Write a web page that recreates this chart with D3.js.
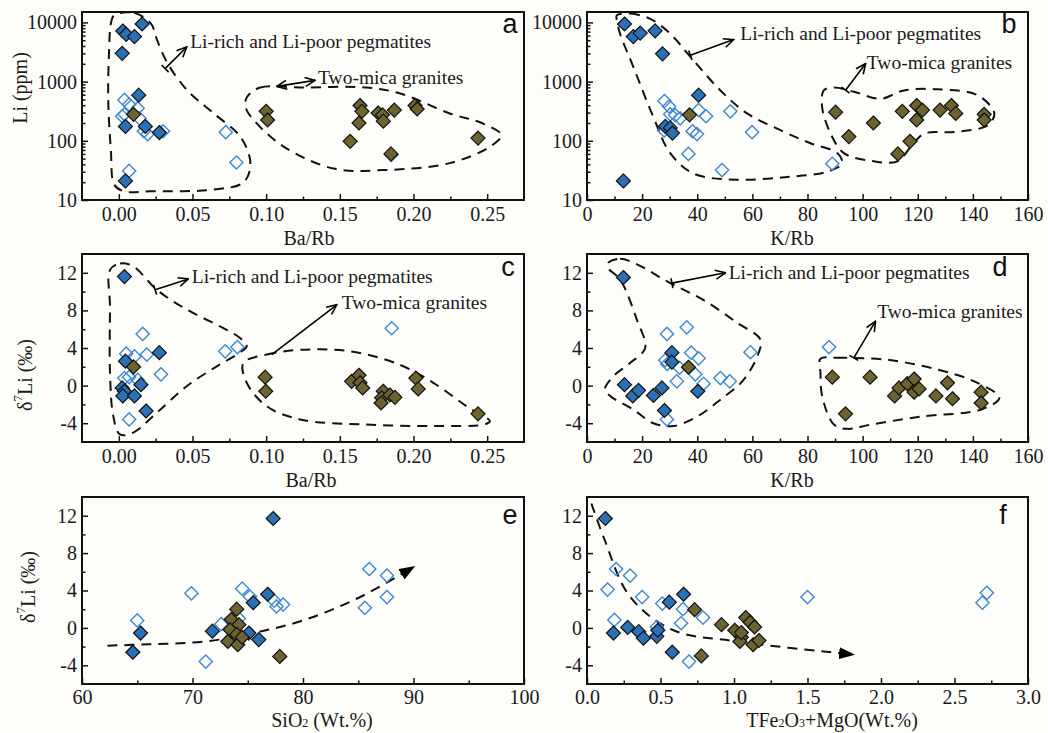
<!DOCTYPE html>
<html><head><meta charset="utf-8">
<script src="https://cdn.jsdelivr.net/npm/d3@7"></script>
<style>body{margin:0;background:#fff}</style>
</head><body><svg id="c" width="1048" height="733"></svg>
<script>
// ---------- tick arrays ----------
const xTicksBaRb = [0, 0.05, 0.10, 0.15, 0.20, 0.25];
const xMinorBaRb = [0.025, 0.075, 0.125, 0.175, 0.225];
const xTicksKRb = [0, 20, 40, 60, 80, 100, 120, 140, 160];
const xMinorKRb = [10, 30, 50, 70, 90, 110, 130, 150];
const yTicksLi = [10, 100, 1000, 10000];
const yTicksD = [-4, 0, 4, 8, 12];
const yMinorD = [-2, 2, 6, 10];
const xTicksSi = [60, 70, 80, 90, 100];
const xMinorSi = [65, 75, 85, 95];
const xTicksFe = [0, 0.5, 1.0, 1.5, 2.0, 2.5, 3.0];
const xMinorFe = [0.25, 0.75, 1.25, 1.75, 2.25, 2.75];

// ---------- data: panel a (Ba/Rb, Li ppm) ----------
const aFilled = [[0.0027,7160],[0.005,6300],[0.0106,5760],[0.0158,9400],[0.0023,3000],[0.0135,590],[0.0045,175],[0.018,175],[0.0275,138],[0.0045,21]];
const aOpen = [[0.0038,490],[0.007,410],[0.0023,260],[0.0038,280],[0.0128,355],[0.014,240],[0.017,145],[0.0196,130],[0.03,145],[0.007,31],[0.0726,140],[0.0798,43],[0.185,58]];
const aOlive = [[0.01,280],[0.1,315],[0.101,225],[0.1637,395],[0.165,315],[0.163,200],[0.157,98],[0.176,295],[0.179,275],[0.1795,215],[0.187,330],[0.201,395],[0.2025,345],[0.2438,111],[0.1847,60]];
// ---------- panel b (K/Rb, Li ppm) ----------
const bFilled = [[13.6,9400],[16.8,5760],[19.3,6600],[24.7,7200],[27.4,2950],[40.5,590],[28.4,175],[30.2,165],[31,135],[13.2,21]];
const bOpen = [[28.1,470],[29.8,380],[30.2,280],[32,270],[33.8,240],[40.5,330],[43.2,260],[38.3,145],[39.9,130],[52,315],[59.9,140],[36.8,60],[49,32],[28,150],[89,41]];
const bOlive = [[37.2,275],[90.2,305],[95,118],[103.9,200],[114.4,315],[119.6,395],[121.7,330],[119.6,225],[128.1,330],[132.2,395],[133.8,290],[144.1,280],[144.1,225],[117.2,98],[112.8,60]];
// ---------- panel c (Ba/Rb, d7Li) ----------
const cFilled = [[0.0038,11.6],[0.0045,2.6],[0.0275,3.5],[0.0023,-0.25],[0.0038,-0.6],[0.0027,-1.1],[0.0106,-1.1],[0.015,0.1],[0.0185,-2.7]];
const cOpen = [[0.0162,5.5],[0.005,3.4],[0.0106,3.1],[0.019,3.3],[0.0286,1.2],[0.0038,0.8],[0.007,0.9],[0.0128,0.6],[0.007,-3.6],[0.0722,3.65],[0.0805,4.1],[0.1852,6.1]];
const cOlive = [[0.01,2.0],[0.0993,0.9],[0.0997,-0.6],[0.158,0.45],[0.163,1.1],[0.1637,0.3],[0.1655,-0.25],[0.1795,-0.6],[0.1784,-1.3],[0.184,-1.0],[0.1874,-1.25],[0.178,-1.85],[0.2016,0.8],[0.2032,-0.35],[0.2438,-3.0]];
// ---------- panel d (K/Rb, d7Li) ----------
const dFilled = [[13.2,11.5],[13.6,0.1],[16.6,-1.1],[18.7,-0.5],[24.1,-1.05],[27.2,-0.25],[28.1,-2.65],[30.8,3.5],[30.8,2.5],[40.2,-0.6]];
const dOpen = [[29,5.5],[36.2,6.2],[28.4,2.7],[29.1,2.3],[33.6,1.9],[37.8,3.5],[40.5,2.9],[39.3,1.2],[32.6,0.45],[42.3,0.2],[48.4,0.8],[51.8,0.45],[59.3,3.55],[29,-3.6],[87.8,4.1]];
const dOlive = [[36.8,1.95],[89,0.9],[93.8,-3.0],[102.7,0.9],[111.6,-1.1],[113.2,-0.25],[116.2,0.2],[118.7,0.7],[118.7,-0.7],[120.5,-0.35],[126.6,-1.1],[130.8,0.3],[132.6,-1.4],[143,-0.7],[143,-1.85]];
// ---------- panel e (SiO2, d7Li) ----------
const eFilled = [[77.3,11.7],[64.6,-2.6],[65.3,-0.55],[71.8,-0.35],[75.5,2.7],[76.8,3.6],[75.1,-0.55],[76.0,-1.25]];
const eOpen = [[69.9,3.7],[65.0,0.8],[71.2,-3.6],[72.6,0.4],[74.5,4.2],[75.2,3.35],[74.2,1.0],[77.4,2.9],[77.6,2.3],[78.2,2.5],[86.0,6.3],[87.6,5.6],[85.6,2.15],[87.6,3.3]];
const eOlive = [[74.0,2.0],[73.5,0.9],[74.2,0.35],[73.4,-0.2],[74.0,-0.7],[73.2,-1.45],[74.1,-1.8],[74.5,-1.0],[77.9,-3.05]];
// ---------- panel f (TFe2O3+MgO, d7Li) ----------
const fFilled = [[0.125,11.7],[0.18,-0.55],[0.277,0.05],[0.352,-0.4],[0.384,-1.1],[0.475,-0.9],[0.482,-0.25],[0.56,2.75],[0.657,3.6],[0.58,-2.6]];
const fOpen = [[0.198,6.3],[0.293,5.6],[0.14,4.1],[0.375,3.3],[0.186,0.85],[0.512,2.6],[0.475,0.1],[0.653,2.0],[0.64,0.5],[0.789,1.1],[0.694,-3.6],[1.5,3.3],[2.69,2.7],[2.72,3.75]];
const fOlive = [[0.732,1.95],[0.915,0.35],[0.778,-3.0],[1.005,-0.25],[1.05,-1.0],[1.04,-1.45],[1.08,1.1],[1.11,0.6],[1.14,0.1],[1.13,-1.8],[1.17,-1.35],[1.05,-0.5]];

// ---------- envelopes / trends (data coordinates) ----------
const envA1 = [[-0.0032,13200],[0.0104,14500],[0.0217,9600],[0.026,5000],[0.033,2050],[0.0465,710],[0.0645,290],[0.0825,117],[0.0893,42],[0.0848,20],[0.0645,15],[0.0217,14],[0.0036,14],[-0.003,18],[-0.0054,70],[-0.0072,490],[-0.0066,3400],[-0.0054,9600]];
const envA2 = [[0.087,550],[0.096,795],[0.123,795],[0.168,795],[0.191,630],[0.2246,290],[0.2471,196],[0.2596,125],[0.2517,79],[0.2246,42],[0.1795,32],[0.1457,34],[0.1118,80],[0.0916,224],[0.086,370]];
const envB1 = [[10.8,13200],[15.6,14100],[22.9,11500],[30.2,6450],[37.5,2630],[48.4,710],[58.1,290],[70.2,151],[81.1,91],[90.8,62],[92.6,42],[87.2,30],[72.6,24.5],[54.4,22],[38.7,28],[30.2,62],[24.1,251],[16.8,1780],[12,6450],[10.8,11000]];
const envB2 = [[85.9,710],[89.6,795],[96.8,676],[106.5,513],[115,710],[127.2,741],[141.7,589],[147.8,290],[145.3,182],[133.2,141],[122.3,132],[117.5,79],[112.6,45],[104.1,45],[93.2,62],[88.4,132],[85.3,372]];
const envC1 = [[-0.006,12.3],[0.0008,13.0],[0.0098,12.7],[0.0257,10.2],[0.046,8.1],[0.0687,6.3],[0.082,5.1],[0.0868,4.2],[0.082,3.5],[0.0665,2.05],[0.046,-0.07],[0.0257,-2.9],[0.0098,-5.0],[0.0008,-5.2],[-0.0037,-3.3],[-0.006,1.35],[-0.006,8.4]];
const envC2 = [[0.0845,2.4],[0.1004,3.3],[0.123,3.8],[0.157,3.65],[0.191,2.2],[0.2135,0.3],[0.236,-2.2],[0.2518,-3.8],[0.2473,-4.15],[0.2135,-4.3],[0.168,-4.15],[0.123,-3.6],[0.1004,-2.2],[0.0868,0.3]];
const envD1 = [[7.7,13.05],[12,13.5],[18.1,12.9],[30.2,10.9],[42.3,9.1],[54.4,6.7],[62.9,4.9],[62.3,3.5],[56.8,0.6],[48.4,-1.5],[39.9,-3.3],[31.4,-4.3],[24.1,-4.0],[16.8,-2.55],[8.4,-1.1],[6.5,-0.4],[9.6,1.0],[15.6,2.4],[21.1,4.0],[18.1,7.0],[12,11.3],[7.7,12.5]];
const envD2 = [[84.7,2.85],[90.8,2.95],[109,2.75],[127.2,1.7],[140.5,0.45],[149.6,-1.3],[143,-2.55],[121.1,-3.3],[102.9,-4.15],[94.4,-4.6],[89.6,-4.15],[85.3,-1.1],[84.7,1.35]];
const trendE = [[62.3,-1.9],[66,-1.75],[71.2,-1.45],[75.5,-0.55],[80,0.8],[85,3.2],[90,6.5]];
const trendF = [[0.03,13.3],[0.118,9.5],[0.29,3.4],[0.58,-0.2],[1.02,-1.45],[1.81,-2.85]];

const PEG = 'Li-rich and Li-poor pegmatites';
const GRA = 'Two-mica granites';

const SERIF = "'Liberation Serif','Times New Roman',serif";
const SANS = "'Liberation Sans',Arial,sans-serif";
const BLUE = '#2b70b5', OPENC = '#3b88d2', OLIVE = '#6c6331';
const FS = '20px';

const svg = d3.select('#c');
svg.append('rect').attr('width',1048).attr('height',733).attr('fill','#fdfdfa');
const defs = svg.append('defs');
defs.append('marker').attr('id','arr').attr('viewBox','0 0 12 12').attr('refX',11).attr('refY',6)
  .attr('markerWidth',12).attr('markerHeight',12).attr('markerUnits','userSpaceOnUse').attr('orient','auto-start-reverse')
  .append('path').attr('d','M1,1.5L11,6L1,10.5').attr('fill','none').attr('stroke','#000').attr('stroke-width',1.6);
defs.append('marker').attr('id','bar').attr('viewBox','0 0 4 12').attr('refX',2).attr('refY',6)
  .attr('markerWidth',4).attr('markerHeight',12).attr('markerUnits','userSpaceOnUse').attr('orient','auto')
  .append('path').attr('d','M2,1L2,11').attr('stroke','#000').attr('stroke-width',1.6);
defs.append('marker').attr('id','tri').attr('viewBox','0 0 16 12').attr('refX',14).attr('refY',6)
  .attr('markerWidth',16).attr('markerHeight',12).attr('markerUnits','userSpaceOnUse').attr('orient','auto')
  .append('path').attr('d','M0,0L16,6L0,12Z').attr('fill','#000');

const diamond = 'M0,-7L7,0L0,7L-7,0Z';
const diamondO = 'M0,-6.6L6.6,0L0,6.6L-6.6,0Z';

const L = {left:82,right:524}, R = {left:587,right:1028};
const ROW = [{top:12,bottom:200,tt:37.5,tp:7},{top:254,bottom:442,tt:37.5,tp:7},{top:497,bottom:684,tt:36,tp:6}];

const panels = [
 {lab:'a', col:L, row:ROW[0], xd:[-0.025,0.275], yd:[10,15000], log:true, xt:xTicksBaRb, xm:xMinorBaRb, yt:yTicksLi, xf:d3.format('.2f'),
  filled:aFilled, open:aOpen, olive:aOlive, env:[envA1,envA2],
  texts:[[PEG,0.0484,4850],[GRA,0.1352,1190]],
  arrows:[{f:[0.0314,1660],t:[0.0461,3850],s:'bar'},{f:[0.1072,830],t:[0.1332,1050],s:'arr'}],
  xTitle:'Ba/Rb', xTitleX:309, yTitle:'li', yTitleX:20, yTitleY:88, labXY:[510,24]},
 {lab:'b', col:R, row:ROW[0], xd:[0,160], yd:[10,15000], log:true, xt:xTicksKRb, xm:xMinorKRb, yt:yTicksLi, xf:d3.format('d'),
  filled:bFilled, open:bOpen, olive:bOlive, env:[envB1,envB2],
  texts:[[PEG,55.6,6550],[GRA,101.5,2065]],
  arrows:[{f:[37.5,2790],t:[53.2,5130],s:'bar'},{f:[93.8,716],t:[101.1,2020],s:'bar'}],
  xTitle:'K/Rb', xTitleX:792, labXY:[1009,24]},
 {lab:'c', col:L, row:ROW[1], xd:[-0.025,0.275], yd:[-6,14], xt:xTicksBaRb, xm:xMinorBaRb, yt:yTicksD, ym:yMinorD, xf:d3.format('.2f'),
  filled:cFilled, open:cOpen, olive:cOlive, env:[envC1,envC2],
  texts:[[PEG,0.0495,11.6],[GRA,0.1513,8.8]],
  arrows:[{f:[0.0246,10.2],t:[0.0472,11.35],s:'bar'},{f:[0.1038,3.3],t:[0.1479,8.6]}],
  xTitle:'Ba/Rb', xTitleX:311, yTitle:'d', yTitleX:25, yTitleY:375, labXY:[508,267]},
 {lab:'d', col:R, row:ROW[1], xd:[0,160], yd:[-6,14], xt:xTicksKRb, xm:xMinorKRb, yt:yTicksD, ym:yMinorD, xf:d3.format('d'),
  filled:dFilled, open:dOpen, olive:dOlive, env:[envD1,envD2],
  texts:[[PEG,51.4,12.0],[GRA,105.3,7.9]],
  arrows:[{f:[30.8,10.9],t:[50.2,12.0],s:'bar'},{f:[96.8,2.95],t:[104.7,6.85],s:'bar'}],
  xTitle:'K/Rb', xTitleX:792, labXY:[1000,267]},
 {lab:'e', col:L, row:ROW[2], xd:[60,100], yd:[-6,14], xt:xTicksSi, xm:xMinorSi, yt:yTicksD, ym:yMinorD, xf:d3.format('d'),
  filled:eFilled, open:eOpen, olive:eOlive, env:[], trend:trendE,
  texts:[], arrows:[],
  xTitle:'si', xTitleX:322, yTitle:'d', yTitleX:28, yTitleY:587, labXY:[510,515]},
 {lab:'f', col:R, row:ROW[2], xd:[0,3], yd:[-6,14], xt:xTicksFe, xm:xMinorFe, yt:yTicksD, ym:yMinorD, xf:d3.format('.1f'),
  filled:fFilled, open:fOpen, olive:fOlive, env:[], trend:trendF,
  texts:[], arrows:[],
  xTitle:'fe', xTitleX:832, labXY:[1003,515]}
];

function yLabelText(sel, kind){
  if(kind==='li'){ sel.text('Li  (ppm)'); return; }
  sel.append('tspan').text('δ');
  sel.append('tspan').attr('baseline-shift','super').attr('font-size','13px').text('7');
  sel.append('tspan').text('Li  (‰)');
}
function xLabelText(sel, kind){
  if(kind==='si'){
    sel.append('tspan').text('SiO');
    sel.append('tspan').attr('dy','3').attr('font-size','12px').text('2');
    sel.append('tspan').attr('dy','-3').text(' (Wt.%)');
  } else if(kind==='fe'){
    sel.append('tspan').text('TFe');
    sel.append('tspan').attr('dy','3').attr('font-size','12px').text('2');
    sel.append('tspan').attr('dy','-3').text('O');
    sel.append('tspan').attr('dy','3').attr('font-size','12px').text('3');
    sel.append('tspan').attr('dy','-3').text('+MgO(Wt.%)');
  } else sel.text(kind);
}

panels.forEach(p=>{
  const g = svg.append('g');
  const x = d3.scaleLinear().domain(p.xd).range([p.col.left,p.col.right]);
  const y = (p.log?d3.scaleLog():d3.scaleLinear()).domain(p.yd).range([p.row.bottom,p.row.top]);
  const line = d3.line().x(d=>x(d[0])).y(d=>y(d[1]));

  p.env.forEach(e=>{
    g.append('path').attr('d',line.curve(d3.curveCatmullRomClosed.alpha(0.5))(e))
      .attr('fill','none').attr('stroke','#111').attr('stroke-width',2).attr('stroke-dasharray','10,7');
  });
  if(p.trend){
    g.append('path').attr('d',line.curve(d3.curveCatmullRom.alpha(0.5))(p.trend))
      .attr('fill','none').attr('stroke','#111').attr('stroke-width',2).attr('stroke-dasharray','10,7')
      .attr('marker-end','url(#tri)');
  }
  g.selectAll('.o').data(p.open).join('path').attr('d',diamondO)
    .attr('transform',d=>`translate(${x(d[0])},${y(d[1])})`)
    .attr('fill','none').attr('stroke',OPENC).attr('stroke-width',1.4);
  g.selectAll('.f').data(p.filled).join('path').attr('d',diamond)
    .attr('transform',d=>`translate(${x(d[0])},${y(d[1])})`)
    .attr('fill',BLUE).attr('stroke','#111').attr('stroke-width',1.2);
  g.selectAll('.v').data(p.olive).join('path').attr('d',diamond)
    .attr('transform',d=>`translate(${x(d[0])},${y(d[1])})`)
    .attr('fill',OLIVE).attr('stroke','#111').attr('stroke-width',1.2);

  p.arrows.forEach(a=>{
    const ln = g.append('line').attr('x1',x(a.f[0])).attr('y1',y(a.f[1])).attr('x2',x(a.t[0])).attr('y2',y(a.t[1]))
      .attr('stroke','#000').attr('stroke-width',1.6).attr('marker-end','url(#arr)');
    if(a.s) ln.attr('marker-start',`url(#${a.s})`);
  });
  p.texts.forEach(t=>{
    g.append('text').attr('x',x(t[1])).attr('y',y(t[2])).attr('dominant-baseline','central')
      .attr('font-family',SERIF).attr('font-size','19.5px').attr('fill','#1a1a1a').text(t[0]);
  });

  g.append('g').attr('transform',`translate(0,${p.row.bottom})`)
    .call(d3.axisBottom(x).tickValues(p.xt).tickFormat(p.xf).tickSizeInner(-6).tickSizeOuter(0).tickPadding(p.row.tp));
  g.append('g').attr('transform',`translate(0,${p.row.bottom})`)
    .call(d3.axisBottom(x).tickValues(p.xm).tickFormat('').tickSizeInner(-3.5).tickSizeOuter(0));
  if(p.log){
    g.append('g').attr('transform',`translate(${p.col.left},0)`)
      .call(d3.axisLeft(y).tickValues(p.yt).tickFormat(d3.format('d')).tickSizeInner(-6).tickSizeOuter(0).tickPadding(5));
    const minors = [];
    [10,100,1000].forEach(dec=>{ for(let k=2;k<=9;k++) minors.push(dec*k); });
    g.append('g').attr('transform',`translate(${p.col.left},0)`)
      .call(d3.axisLeft(y).tickValues(minors).tickFormat('').tickSizeInner(-3.5).tickSizeOuter(0));
  } else {
    g.append('g').attr('transform',`translate(${p.col.left},0)`)
      .call(d3.axisLeft(y).tickValues(p.yt).tickFormat(d=>String(d)).tickSizeInner(-6).tickSizeOuter(0).tickPadding(5));
    g.append('g').attr('transform',`translate(${p.col.left},0)`)
      .call(d3.axisLeft(y).tickValues(p.ym).tickFormat('').tickSizeInner(-3.5).tickSizeOuter(0));
  }
  g.selectAll('.domain').remove();
  g.selectAll('.tick line').attr('stroke','#111').attr('stroke-width',1.5);
  g.selectAll('.tick text').attr('font-family',SERIF).attr('font-size',FS).attr('fill','#1a1a1a');

  g.append('rect').attr('x',p.col.left).attr('y',p.row.top)
    .attr('width',p.col.right-p.col.left).attr('height',p.row.bottom-p.row.top)
    .attr('fill','none').attr('stroke','#111').attr('stroke-width',2);

  g.append('text').attr('x',p.labXY[0]).attr('y',p.labXY[1]).attr('text-anchor','middle').attr('dominant-baseline','central')
    .attr('font-family',SANS).attr('font-size','27px').attr('fill','#111').text(p.lab);

  const xt = g.append('text').attr('x',p.xTitleX).attr('y',p.row.bottom+p.row.tt).attr('text-anchor','middle')
    .attr('dominant-baseline','central').attr('font-family',SERIF).attr('font-size',FS).attr('fill','#1a1a1a');
  xLabelText(xt,p.xTitle);
  if(p.yTitle){
    const yt = g.append('text').attr('transform',`translate(${p.yTitleX},${p.yTitleY}) rotate(-90)`)
      .attr('text-anchor','middle').attr('dominant-baseline','central')
      .attr('font-family',SERIF).attr('font-size',FS).attr('fill','#1a1a1a');
    yLabelText(yt,p.yTitle);
  }
});
</script>
</body></html>
